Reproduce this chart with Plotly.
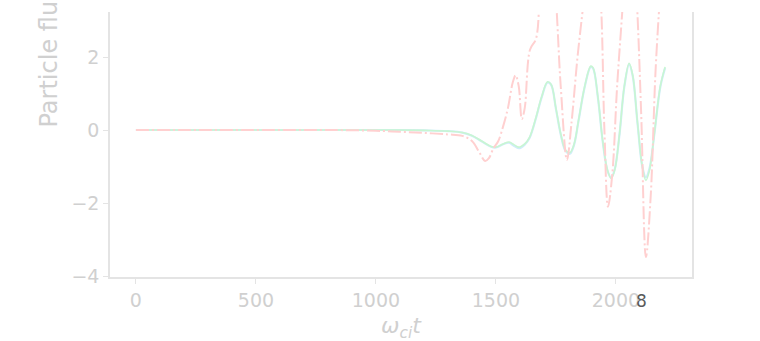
import plotly.graph_objects as go

# Time axis samples (omega_ci * t) and particle flux for three runs
t_green = [0, 200, 400, 600, 800, 1000, 1100, 1200, 1300, 1360, 1400, 1440, 1480, 1500,
           1530, 1555, 1575, 1595, 1620, 1640, 1665, 1690, 1715, 1730, 1750, 1770, 1790,
           1808, 1825, 1845, 1870, 1895, 1905, 1925, 1945, 1965, 1980, 1995, 2015, 2035,
           2055, 2070, 2090, 2110, 2125, 2140, 2160, 2185, 2205]
flux_green = [0, 0, 0, 0, 0, 0, 0, -0.01, -0.03, -0.07, -0.15, -0.3, -0.45, -0.47,
              -0.38, -0.33, -0.4, -0.47, -0.38, -0.2, 0.3, 0.9, 1.32, 1.25, 0.6, -0.1, -0.55,
              -0.62, -0.4, 0.3, 1.2, 1.75, 1.7, 0.9, -0.3, -1.1, -1.33, -1.1, -0.1, 1.2,
              1.83, 1.5, 0.2, -1.0, -1.38, -1.1, -0.1, 1.2, 1.73]

t_blue = t_green
flux_blue = [0, 0, 0, 0, 0, 0, 0, -0.01, -0.03, -0.07, -0.16, -0.31, -0.46, -0.48,
             -0.39, -0.35, -0.43, -0.5, -0.4, -0.22, 0.28, 0.88, 1.3, 1.24, 0.58, -0.12, -0.57,
             -0.65, -0.42, 0.28, 1.18, 1.73, 1.69, 0.88, -0.32, -1.12, -1.3, -1.08, -0.12, 1.18,
             1.8, 1.48, 0.18, -1.0, -1.3, -1.05, -0.12, 1.18, 1.7]

t_red = [0, 200, 400, 600, 800, 1000, 1100, 1200, 1300, 1360, 1400, 1430, 1455, 1470,
         1490, 1510, 1530, 1550, 1570, 1582, 1595, 1608, 1620, 1642, 1667, 1685, 1715,
         1745, 1770, 1796, 1815, 1840, 1870, 1902, 1935, 1952, 1967, 1985, 2005, 2030,
         2056, 2085, 2105, 2125, 2145, 2165, 2185, 2205]
flux_red = [0, 0, 0, 0, 0, -0.02, -0.05, -0.08, -0.12, -0.16, -0.3, -0.6, -0.85, -0.78,
            -0.5, -0.3, 0.1, 0.6, 1.3, 1.5, 1.2, 0.3, 0.6, 2.2, 2.5, 4.0, 5.5,
            4.0, 1.2, -0.82, 0.2, 2.0, 3.8, 6.0, 3.8, 0.0, -2.1, -1.2, 1.2, 3.6,
            6.5, 3.8, 0.5, -3.48, -1.8, 1.6, 3.8, 5.5]

x_ticks = [0, 500, 1000, 1500, 2000]
y_ticks = [-4, -2, 0, 2]

text_col = "rgb(208,208,208)"
line_col = "rgb(228,228,228)"
font = "DejaVu Sans"

fig = go.Figure()
fig.add_trace(go.Scatter(x=t_blue, y=flux_blue, mode="lines", line_shape="spline",
                         line=dict(color="rgb(208,236,250)", width=2.2)))
fig.add_trace(go.Scatter(x=t_green, y=flux_green, mode="lines", line_shape="spline",
                         line=dict(color="rgb(200,246,210)", width=1.6)))
fig.add_trace(go.Scatter(x=t_red, y=flux_red, mode="lines", line_shape="spline",
                         line=dict(color="rgb(255,208,208)", width=2,
                                   dash="13px,3px,2px,3px")))

axis_common = dict(showgrid=False, zeroline=False, showline=True, linecolor=line_col,
                   linewidth=1.5, ticks="outside", ticklen=5, tickwidth=1,
                   tickcolor=line_col,
                   tickfont=dict(family=font, size=19, color=text_col))

fig.update_layout(
    width=760, height=341,
    margin=dict(l=110, r=68, t=12, b=64),
    paper_bgcolor="white", plot_bgcolor="white",
    showlegend=False,
    xaxis=dict(range=[-108, 2317], tickvals=x_ticks, **axis_common),
    yaxis=dict(range=[-4.027, 3.233], tickvals=y_ticks, mirror=True, **axis_common),
    annotations=[
        dict(text="<i>ω<sub>ci</sub>t</i>", xref="paper", yref="paper", x=0.5, y=-0.19,
             xanchor="center", yanchor="middle", showarrow=False,
             font=dict(family=font, size=22, color=text_col)),
        dict(text="Particle flux", xref="paper", yref="paper", x=-0.105, y=0.558,
             xanchor="center", yanchor="bottom", textangle=-90, showarrow=False,
             font=dict(family=font, size=24, color=text_col)),
        dict(text="8", xref="paper", yref="paper", x=0.913, y=-0.09,
             xanchor="center", yanchor="middle", showarrow=False,
             font=dict(family=font, size=17, color="rgb(90,90,90)")),
    ],
)

fig.write_html("out.html")
